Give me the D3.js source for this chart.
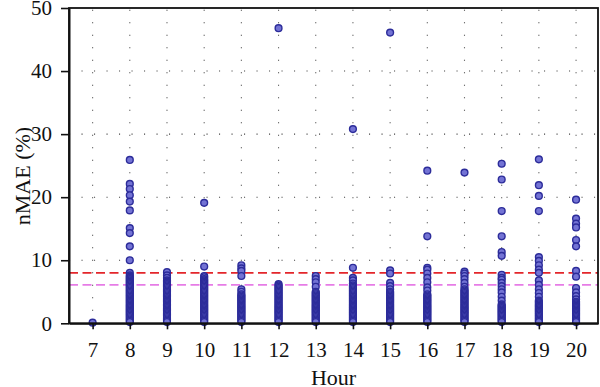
<!DOCTYPE html>
<html>
<head>
<meta charset="utf-8">
<script src="https://cdn.jsdelivr.net/npm/d3@7"></script>
<style>
  body { margin: 0; background: #fff; }
  text { font-family: "Liberation Serif", "Times New Roman", serif; fill: #111; }
</style>
</head>
<body>
<div class="chart"></div>
<script>
// hours on the x axis
var hours = [7, 8, 9, 10, 11, 12, 13, 14, 15, 16, 17, 18, 19, 20];

// nMAE (%) per hour (low values are packed tightly)
var nmae7 = [0.1];
var nmae8 = [25.9, 22.1, 21.3, 20.3, 19.3, 17.9, 15.1, 14.3, 12.2, 10.0, 8.0,
  7.6, 7.4, 7.2, 7.0, 6.8, 6.6, 6.4, 6.2, 6.0, 5.8, 5.6, 5.4, 5.2, 5.0, 4.8, 4.6, 4.4, 4.2, 4.0,
  3.8, 3.6, 3.4, 3.2, 3.0, 2.8, 2.6, 2.4, 2.2, 2.0, 1.8, 1.6, 1.4, 1.2, 1.0, 0.8, 0.6, 0.4, 0.2];
var nmae9 = [8.1, 7.6, 7.2,
  6.8, 6.6, 6.4, 6.2, 6.0, 5.8, 5.6, 5.4, 5.2, 5.0, 4.8, 4.6, 4.4, 4.2, 4.0,
  3.8, 3.6, 3.4, 3.2, 3.0, 2.8, 2.6, 2.4, 2.2, 2.0, 1.8, 1.6, 1.4, 1.2, 1.0, 0.8, 0.6, 0.4, 0.2];
var nmae10 = [19.1, 9.0, 7.5, 7.3,
  7.0, 6.8, 6.6, 6.4, 6.2, 6.0, 5.8, 5.6, 5.4, 5.2, 5.0, 4.8, 4.6, 4.4, 4.2, 4.0,
  3.8, 3.6, 3.4, 3.2, 3.0, 2.8, 2.6, 2.4, 2.2, 2.0, 1.8, 1.6, 1.4, 1.2, 1.0, 0.8, 0.6, 0.4, 0.2];
var nmae11 = [9.2, 8.7, 8.3, 7.5, 5.4, 5.0,
  4.6, 4.4, 4.2, 4.0, 3.8, 3.6, 3.4, 3.2, 3.0, 2.8, 2.6, 2.4, 2.2, 2.0, 1.8, 1.6, 1.4, 1.2, 1.0, 0.8, 0.6, 0.4, 0.2];
var nmae12 = [46.8,
  6.2, 6.0, 5.8, 5.6, 5.4, 5.2, 5.0, 4.8, 4.6, 4.4, 4.2, 4.0,
  3.8, 3.6, 3.4, 3.2, 3.0, 2.8, 2.6, 2.4, 2.2, 2.0, 1.8, 1.6, 1.4, 1.2, 1.0, 0.8, 0.6, 0.4, 0.2];
var nmae13 = [7.5, 7.0, 6.5, 5.8, 5.0,
  4.8, 4.6, 4.4, 4.2, 4.0, 3.8, 3.6, 3.4, 3.2, 3.0, 2.8, 2.6, 2.4, 2.2, 2.0, 1.8, 1.6, 1.4, 1.2, 1.0, 0.8, 0.6, 0.4, 0.2];
var nmae14 = [30.8, 8.8, 7.2, 6.8, 6.3,
  6.0, 5.8, 5.6, 5.4, 5.2, 5.0, 4.8, 4.6, 4.4, 4.2, 4.0,
  3.8, 3.6, 3.4, 3.2, 3.0, 2.8, 2.6, 2.4, 2.2, 2.0, 1.8, 1.6, 1.4, 1.2, 1.0, 0.8, 0.6, 0.4, 0.2];
var nmae15 = [46.1, 8.4, 7.9, 6.4, 5.9, 5.4,
  5.0, 4.8, 4.6, 4.4, 4.2, 4.0, 3.8, 3.6, 3.4, 3.2, 3.0, 2.8, 2.6, 2.4, 2.2, 2.0, 1.8, 1.6, 1.4, 1.2, 1.0, 0.8, 0.6, 0.4, 0.2];
var nmae16 = [24.2, 13.8, 8.8, 8.5, 7.9, 7.2, 6.5, 5.7, 5.2,
  4.6, 4.4, 4.2, 4.0, 3.8, 3.6, 3.4, 3.2, 3.0, 2.8, 2.6, 2.4, 2.2, 2.0, 1.8, 1.6, 1.4, 1.2, 1.0, 0.8, 0.6, 0.4, 0.2];
var nmae17 = [23.9, 8.2, 7.9, 7.5, 7.0, 6.4, 5.8,
  5.4, 5.2, 5.0, 4.8, 4.6, 4.4, 4.2, 4.0, 3.8, 3.6, 3.4, 3.2, 3.0, 2.8, 2.6, 2.4, 2.2, 2.0, 1.8, 1.6, 1.4, 1.2, 1.0, 0.8, 0.6, 0.4, 0.2];
var nmae18 = [25.3, 22.8, 17.8, 13.8, 11.3, 10.7, 7.7, 7.2, 6.9, 6.4, 5.9, 5.4, 4.9, 4.2, 3.6,
  3.0, 2.8, 2.6, 2.4, 2.2, 2.0, 1.8, 1.6, 1.4, 1.2, 1.0, 0.8, 0.6, 0.4, 0.2];
var nmae19 = [26.0, 21.9, 20.2, 17.8, 10.5, 9.9, 9.2, 8.5, 8.0, 6.8, 6.1, 5.4, 4.8, 4.2,
  3.6, 3.4, 3.2, 3.0, 2.8, 2.6, 2.4, 2.2, 2.0, 1.8, 1.6, 1.4, 1.2, 1.0, 0.8, 0.6, 0.4, 0.2];
var nmae20 = [19.6, 16.6, 15.8, 15.2, 13.2, 12.2, 8.3, 7.4, 5.6, 4.9, 4.3, 3.8,
  3.4, 3.2, 3.0, 2.8, 2.6, 2.4, 2.2, 2.0, 1.8, 1.6, 1.4, 1.2, 1.0, 0.8, 0.6, 0.4, 0.2];
var series = [nmae7, nmae8, nmae9, nmae10, nmae11, nmae12, nmae13, nmae14, nmae15, nmae16, nmae17, nmae18, nmae19, nmae20];

// y ticks and the two reference levels (red, violet)
var yTicks = [0, 10, 20, 30, 40, 50];
var refLevels = [8.0, 6.1];
var refColors = ["#e3262b", "#e67ce6"];

var svgWidth = 600;
var svgHeight = 387;
var margin = {top: 8, right: 2, bottom: 63.7, left: 69};
var chartWidth = svgWidth - margin.left - margin.right;
var chartHeight = svgHeight - margin.top - margin.bottom;

var svg = d3.select(".chart")
  .append("svg")
  .attr("width", svgWidth)
  .attr("height", svgHeight);

var chart = svg.append("g")
  .attr("transform", "translate(" + margin.left + "," + margin.top + ")");

var xScale = d3.scaleLinear().domain([6.365, 20.59]).range([0, chartWidth]);
var yScale = d3.scaleLinear().domain([0, 50]).range([chartHeight, 0]);

// dotted grid
chart.append("g").selectAll("line")
  .data(hours)
  .enter().append("line")
  .attr("x1", function(d) { return xScale(d); })
  .attr("x2", function(d) { return xScale(d); })
  .attr("y1", chartHeight)
  .attr("y2", 0)
  .attr("stroke", "#444")
  .attr("stroke-width", 1.1)
  .attr("stroke-dasharray", "1.1,11.4");

chart.append("g").selectAll("line")
  .data(yTicks.slice(1, 5))
  .enter().append("line")
  .attr("x1", 0)
  .attr("x2", chartWidth)
  .attr("y1", function(d) { return yScale(d); })
  .attr("y2", function(d) { return yScale(d); })
  .attr("stroke", "#444")
  .attr("stroke-width", 1.1)
  .attr("stroke-dasharray", "1.1,11.4");

// reference lines
chart.append("g").selectAll("line")
  .data(refLevels)
  .enter().append("line")
  .attr("x1", 0)
  .attr("x2", chartWidth)
  .attr("y1", function(d) { return yScale(d); })
  .attr("y2", function(d) { return yScale(d); })
  .attr("stroke", function(d, i) { return refColors[i]; })
  .attr("stroke-width", 1.6)
  .attr("stroke-dasharray", "9,4.5");

// points
var points = [];
series.forEach(function(vals, i) {
  vals.forEach(function(v) { points.push({hour: hours[i], value: v}); });
});

chart.append("g").selectAll("circle")
  .data(points)
  .enter().append("circle")
  .attr("cx", function(d) { return xScale(d.hour); })
  .attr("cy", function(d) { return yScale(d.value); })
  .attr("r", 3.4)
  .attr("fill", "#7373d4")
  .attr("stroke", "#2c2c9a")
  .attr("stroke-width", 1.4);

// frame
chart.append("rect")
  .attr("x", 0).attr("y", 0)
  .attr("width", chartWidth).attr("height", chartHeight)
  .attr("fill", "none")
  .attr("stroke", "#111")
  .attr("stroke-width", 1.8);

// axes
var bottomAxis = d3.axisBottom(xScale).tickValues(hours).tickSize(6).tickSizeOuter(0).tickPadding(13);
var leftAxis = d3.axisLeft(yScale).tickValues(yTicks).tickSize(8).tickSizeOuter(0).tickPadding(9);

var gx = chart.append("g")
  .attr("transform", "translate(0," + chartHeight + ")")
  .call(bottomAxis);
var gy = chart.append("g").call(leftAxis);

[gx, gy].forEach(function(g) {
  g.attr("font-family", null).attr("font-size", null);
  g.select(".domain").attr("stroke", "#111").attr("stroke-width", 2);
  g.selectAll(".tick line").attr("stroke", "#111").attr("stroke-width", 1.6);
  g.selectAll(".tick text")
    .attr("fill", "#111")
    .style("font-family", "'Liberation Serif', serif")
    .style("font-size", "21px");
});

// axis titles
svg.append("text")
  .attr("transform", "translate(30," + 176 + ") rotate(-90)")
  .attr("text-anchor", "middle")
  .style("font-size", "22px")
  .text("nMAE (%)");

svg.append("text")
  .attr("x", margin.left + chartWidth / 2)
  .attr("y", 385)
  .attr("text-anchor", "middle")
  .style("font-size", "22px")
  .text("Hour");
</script>
</body>
</html>
